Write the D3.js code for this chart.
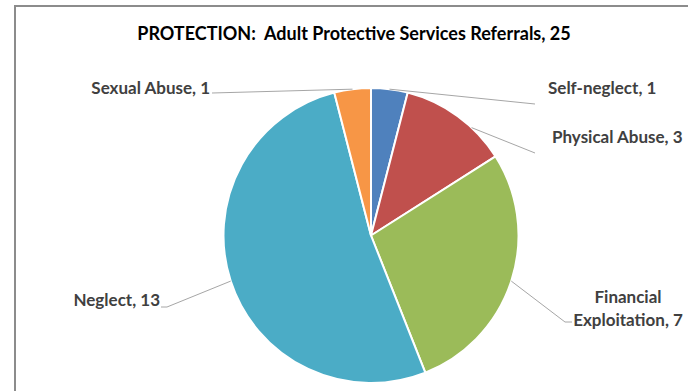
<!DOCTYPE html>
<html>
<head>
<meta charset="utf-8">
<script src="https://cdn.jsdelivr.net/npm/d3@7"></script>
<style>
  html, body { margin: 0; padding: 0; background: #fff; }
  svg { display: block; }
  text { font-family: Lato, "Open Sans", sans-serif; font-weight: 700; fill: #404040; white-space: pre; }
</style>
</head>
<body>
<svg id="chart" width="688" height="391"></svg>
<script>
// Referral counts by category, clockwise from 12 o'clock
const categories = ["Self-neglect", "Physical Abuse", "Financial Exploitation", "Neglect", "Sexual Abuse"];
const counts = [1, 3, 7, 13, 1];
const colors = ["#4F81BD", "#C0504D", "#9BBB59", "#4BACC6", "#F79646"];
const titleText = "PROTECTION:  Adult Protective Services Referrals, 25";

// Label placement: text lines, anchor point, and where the leader line meets the text
const labelLayout = [
  { lines: ["Self-neglect, 1"], x: 548, y: 94, anchor: "start", end: [[535, 104]] },
  { lines: ["Physical Abuse, 3"], x: 552, y: 143, anchor: "start", end: [[535, 153]], angleShift: 7 },
  { lines: ["Financial", "Exploitation, 7"], x: 628, y: 303, anchor: "middle", end: [[565, 322], [572, 322]] },
  { lines: ["Neglect, 13"], x: 160, y: 306, anchor: "end", end: [[167, 307], [161, 307]] },
  { lines: ["Sexual Abuse, 1"], x: 210, y: 94, anchor: "end", end: [[212, 93]] }
];

const svg = d3.select("#chart");
const cx = 371, cy = 235.5, r = 147.5;

// Chart frame
svg.append("path")
  .attr("d", "M15,391 V6 H688")
  .attr("fill", "none")
  .attr("stroke", "#8c8c8c")
  .attr("stroke-width", 2);

// Title
svg.append("text")
  .attr("x", 354)
  .attr("y", 40)
  .attr("text-anchor", "middle")
  .style("font-size", "18px")
  .style("fill", "#000")
  .text(titleText);

const data = categories.map((c, i) => ({ name: c, value: counts[i], color: colors[i] }));
const pie = d3.pie().value(d => d.value).sort(null);
const arcs = pie(data);
const arc = d3.arc().innerRadius(0).outerRadius(r);

const g = svg.append("g").attr("transform", `translate(${cx},${cy})`);

g.selectAll("path.slice")
  .data(arcs)
  .join("path")
  .attr("class", "slice")
  .attr("d", arc)
  .attr("fill", d => d.data.color)
  .attr("stroke", "#fff")
  .attr("stroke-width", 2)
  .attr("stroke-linejoin", "round");

// Leader lines from the slice edge to each label
arcs.forEach((a, i) => {
  const L = labelLayout[i];
  const mid = (a.startAngle + a.endAngle) / 2 + (L.angleShift || 0) * Math.PI / 180;
  const start = [cx + r * Math.sin(mid), cy - r * Math.cos(mid)];
  const pts = [start].concat(L.end);
  svg.append("path")
    .attr("d", d3.line()(pts))
    .attr("fill", "none")
    .attr("stroke", "#a6a6a6")
    .attr("stroke-width", 1);
});

// Data labels
labelLayout.forEach(L => {
  const t = svg.append("text")
    .attr("x", L.x)
    .attr("y", L.y)
    .attr("text-anchor", L.anchor)
    .style("font-size", "17px");
  L.lines.forEach((line, k) => {
    t.append("tspan").attr("x", L.x).attr("dy", k === 0 ? 0 : 23).text(line);
  });
});
</script>
</body>
</html>
